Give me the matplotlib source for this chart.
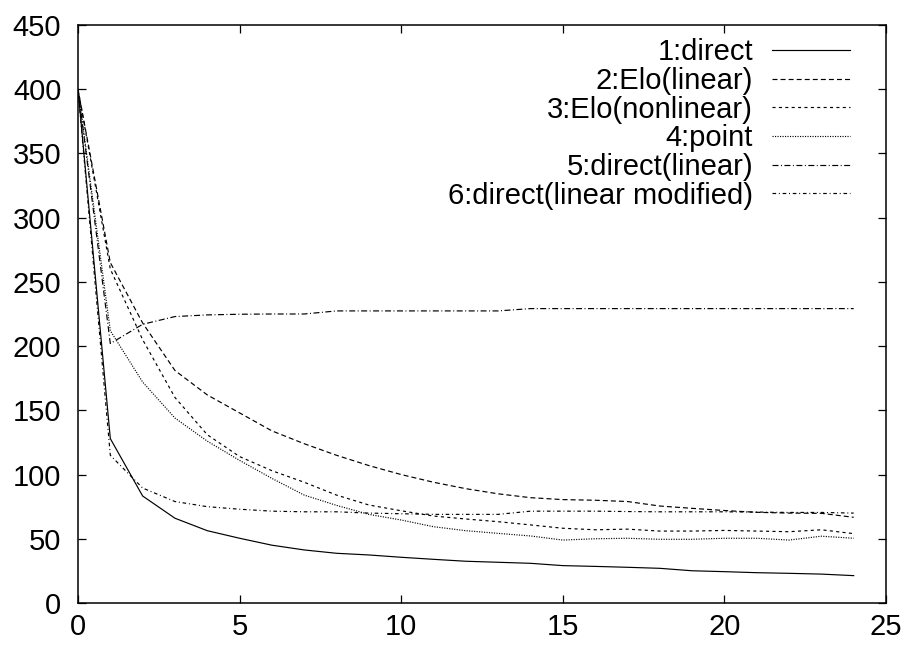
import matplotlib
matplotlib.use('Agg')
import matplotlib.pyplot as plt

plt.rcParams['font.family'] = ['Liberation Sans', 'DejaVu Sans']
plt.rcParams['lines.scale_dashes'] = False

x = list(range(25))

direct = [400, 128, 83.3, 66, 56.3, 50.4, 45, 41.3, 38.7, 37.4, 35.6, 34, 32.5,
          31.7, 30.9, 29.1, 28.5, 27.8, 27, 25.1, 24.4, 23.6, 23.1, 22.5, 21.3]
elo_linear = [400, 265, 218, 181, 162, 148, 134, 124, 115, 107, 100, 94, 89,
              85, 82, 80.5, 80, 79, 75.5, 73.7, 72, 70.6, 70, 69.8, 66.7]
elo_nonlinear = [400, 260, 205, 160, 131, 114, 103, 94, 84, 76.3, 71.8, 67.7, 65.4,
                 63.3, 60.8, 58.2, 57, 57.5, 56, 56, 56.5, 56, 55.5, 57, 54]
point = [400, 212, 172, 144, 126, 111, 97, 84, 76, 69, 64.6, 59.4, 56.3,
         54.2, 52.2, 49, 50, 50.4, 49.6, 49.6, 50.4, 50.4, 49, 52, 50.4]
direct_linear = [400, 202, 217, 223, 224.3, 224.8, 225, 225, 227.4, 227.4, 227.4, 227.4, 227.4,
                 227.4, 229.2, 229.2, 229.2, 229.2, 229.2, 229.2, 229.2, 229.2, 229.2, 229.2, 229.2]
direct_linear_mod = [400, 115, 89.5, 79, 75, 73, 71.5, 71, 71, 70, 69.5, 69, 69,
                     69, 71.5, 71.5, 71.5, 71.2, 71, 71, 71, 70.8, 70.5, 70.5, 70]

labels = ['1:direct', '2:Elo(linear)', '3:Elo(nonlinear)', '4:point',
          '5:direct(linear)', '6:direct(linear modified)']
series = [direct, elo_linear, elo_nonlinear, point, direct_linear, direct_linear_mod]
styles = ['-', (0, (3.6, 2.2)), (0, (2.2, 2.4)), (0, (0.8, 1.0)),
          (0, (4.3, 1.8, 0.7, 1.8)), (0, (2.6, 2.0, 0.7, 2.0))]

fig = plt.figure(figsize=(9.08, 6.49), dpi=100)
ax = fig.add_axes([78 / 908, 1 - 603 / 649, 808 / 908, 578 / 649])

for y, lab, ls in zip(series, labels, styles):
    ax.plot(x, y, color='black', lw=0.85, linestyle=ls, label=lab)

ax.set_xlim(0, 25)
ax.set_ylim(0, 450)
ax.set_xticks(range(0, 26, 5))
ax.set_yticks(range(0, 451, 50))
ax.tick_params(direction='in', length=6, width=0.9, top=True, right=True,
               labelsize=21, colors='black')
ax.tick_params(axis='y', pad=12)
ax.tick_params(axis='x', pad=7)
for sp in ax.spines.values():
    sp.set_linewidth(1.1)

ax.legend(loc='upper right', bbox_to_anchor=(0.9554, 0.977), frameon=False,
          markerfirst=False, fontsize=21, handlelength=2.67, handletextpad=0.65,
          labelspacing=0.022, borderpad=0, borderaxespad=0)

fig.savefig('out.png', dpi=100)
